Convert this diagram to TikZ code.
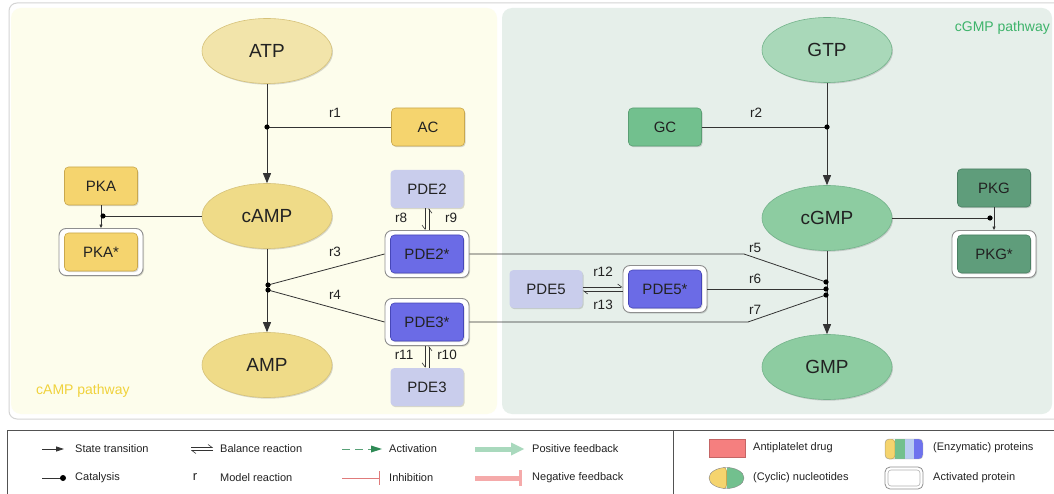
\documentclass[tikz,border=0pt]{standalone}
\usepackage{fontspec}
\setmainfont{Liberation Sans}
\usetikzlibrary{shapes.geometric, arrows.meta, shadows}

\newcommand\pxfont[1]{\fontsize{#1}{#1}\selectfont}

% palette
\definecolor{txt}{HTML}{222222}
\definecolor{edge}{HTML}{333333}
\definecolor{panelY}{HTML}{FDFDEC}
\definecolor{panelG}{HTML}{E6EFEA}
\definecolor{framegray}{HTML}{D4D4D4}
\definecolor{atpfill}{HTML}{F2E4AA}
\definecolor{campfill}{HTML}{EFDB88}
\definecolor{nucYline}{HTML}{D6C27A}
\definecolor{protY}{HTML}{F5D46E}
\definecolor{protYline}{HTML}{C9A84E}
\definecolor{gtpfill}{HTML}{A9D8B9}
\definecolor{cgmpfill}{HTML}{8DCCA1}
\definecolor{nucGline}{HTML}{74B38B}
\definecolor{gcfill}{HTML}{72C08E}
\definecolor{gcline}{HTML}{5A9E73}
\definecolor{pkgfill}{HTML}{5F9D7B}
\definecolor{pkgline}{HTML}{4A8063}
\definecolor{pdeI}{HTML}{C9CDEC}
\definecolor{pdeA}{HTML}{6B6BE6}
\definecolor{pdeAline}{HTML}{4747B8}
\definecolor{actgray}{HTML}{8F8F8F}
\definecolor{labY}{HTML}{F0D23C}
\definecolor{labG}{HTML}{3DB36A}
\definecolor{actgreen}{HTML}{2E8A55}
\definecolor{posfb}{HTML}{A9D9BD}
\definecolor{inhred}{HTML}{E07B7B}
\definecolor{negfb}{HTML}{F5AAAA}
\definecolor{drugred}{HTML}{F57F7F}
\definecolor{stripeB}{HTML}{B9CCF2}
\definecolor{stripeD}{HTML}{6E72EE}

\tikzset{
  softshadow/.style={drop shadow={shadow xshift=1pt, shadow yshift=-1.2pt, opacity=0.15, fill=black}},
  nuc/.style={ellipse, draw=nucYline, line width=0.6pt, minimum width=130pt,
    minimum height=65pt, inner sep=0pt, text=txt, font=\pxfont{19}, softshadow},
  nucY/.style={nuc, fill=campfill},
  nucG/.style={nuc, fill=cgmpfill, draw=nucGline},
  prot/.style={rectangle, rounded corners=4pt, line width=0.6pt, minimum width=73pt,
    minimum height=38pt, inner sep=0pt, text=txt, font=\pxfont{15}, softshadow},
  protY/.style={prot, fill=protY, draw=protYline},
  protG/.style={prot, fill=gcfill, draw=gcline},
  protK/.style={prot, fill=pkgfill, draw=pkgline},
  pdeinact/.style={prot, fill=pdeI, draw=none},
  pdeact/.style={prot, fill=pdeA, draw=pdeAline},
  actframe/.style={rectangle, rounded corners=7pt, draw=actgray, fill=white,
    line width=0.9pt, minimum width=84pt, minimum height=47pt, inner sep=0pt, softshadow},
  rlab/.style={text=txt, font=\pxfont{13.5}, inner sep=0pt},
  leglab/.style={text=txt, font=\pxfont{11}, anchor=west, inner sep=0pt},
  link/.style={draw=edge, line width=0.8pt},
  trans/.style={link, -{Triangle[length=10pt, width=8pt]}},
  smalltrans/.style={link, line width=0.6pt, -{Triangle[length=3.5pt, width=3pt]}},
  harp/.style={link, line width=0.6pt, -{Straight Barb[harpoon, length=4pt, width=6pt]}},
  harpsw/.style={link, line width=0.6pt, -{Straight Barb[harpoon, swap, length=4pt, width=6pt]}},
  cdot/.style={fill=black},
}

\begin{document}
\begin{tikzpicture}[x=1pt, y=-1pt]
\useasboundingbox (0,0) rectangle (1054,494);
\fill[white] (0,0) rectangle (1054,494);

% outer frame and the two pathway panels
\draw[framegray, line width=1pt, rounded corners=8pt] (9,3) rectangle (1064,419);
\fill[panelY, rounded corners=10pt] (11,8) rectangle (497,414);
\fill[panelG, rounded corners=10pt] (502,8) rectangle (1052,414);
\node[anchor=west, text=labY, font=\pxfont{14}, inner sep=0pt] (lcamp) at (36,391) {cAMP pathway};
\node[anchor=east, text=labG, font=\pxfont{14}, inner sep=0pt] (lcgmp) at (1050,28) {cGMP pathway};

% ---------- cAMP pathway ----------
\node[nucY, fill=atpfill] (atp) at (267,51) {ATP};
\node[nucY] (camp) at (267,216) {cAMP};
\node[nucY] (amp) at (267,365) {AMP};
\node[protY] (ac) at (428,127) {AC};
\node[protY] (pka) at (101,186) {PKA};
\node[actframe] (pkasf) at (101,252) {};
\node[protY] (pkas) at (101,252) {PKA*};
\node[pdeinact] (pde2) at (427,189) {PDE2};
\node[actframe] (pde2sf) at (427,254) {};
\node[pdeact] (pde2s) at (427,254) {PDE2*};
\node[actframe] (pde3sf) at (427,322) {};
\node[pdeact] (pde3s) at (427,322) {PDE3*};
\node[pdeinact] (pde3) at (427,387) {PDE3};

% ---------- cGMP pathway ----------
\node[nucG, fill=gtpfill] (gtp) at (827,50) {GTP};
\node[nucG] (cgmp) at (827,218) {cGMP};
\node[nucG] (gmp) at (827,367) {GMP};
\node[protG] (gc) at (665,127) {GC};
\node[protK] (pkg) at (994,188) {PKG};
\node[actframe] (pkgsf) at (994,254) {};
\node[protK] (pkgs) at (994,254) {PKG*};
\node[pdeinact] (pde5) at (546,289) {PDE5};
\node[actframe] (pde5sf) at (665,289) {};
\node[pdeact] (pde5s) at (665,289) {PDE5*};

% junction points of the catalysed reactions
\coordinate (c1) at (atp |- ac.west);
\coordinate (cpka) at (103,216);
\coordinate (j3) at (268,285);
\coordinate (j4) at (268,290);
\coordinate (c2) at (gtp |- gc.east);
\coordinate (cpkg) at (990,218);
\coordinate (j5) at (826,282);
\coordinate (j6) at (826,289);
\coordinate (j7) at (826,295);
\coordinate (k5) at (744,254);
\coordinate (k7) at (748,322);

% state transitions
\draw[trans] (atp) -- (camp);
\draw[trans] (camp) -- (amp);
\draw[trans] (gtp) -- (cgmp);
\draw[trans] (cgmp) -- (gmp);
\draw[smalltrans] (pka.south) -- (pkasf.north);
\draw[smalltrans] (pkg.south) -- (pkgsf.north);

% catalysis
\draw[link] (ac.west) -- (c1);
\draw[link] (camp.west) -- (cpka);
\draw[link] (pde2sf.west) -- (j3);
\draw[link] (pde3sf.west) -- (j4);
\draw[link] (gc.east) -- (c2);
\draw[link] (cgmp.east) -- (cpkg);
\draw[link] (pde2sf.east) -- (k5) -- (j5);
\draw[link] (pde5sf.east) -- (j6);
\draw[link] (pde3sf.east) -- (k7) -- (j7);
\foreach \c in {c1,cpka,j3,j4,c2,cpkg,j5,j6,j7}
  \fill[cdot] (\c) circle (2.6pt);

% balance reactions
\draw[harpsw] ([xshift=-2pt]pde2.south) -- ([xshift=-2pt]pde2sf.north);
\draw[harpsw] ([xshift=2pt]pde2sf.north) -- ([xshift=2pt]pde2.south);
\draw[harpsw] ([xshift=-2pt]pde3sf.south) -- ([xshift=-2pt]pde3.north);
\draw[harpsw] ([xshift=2pt]pde3.north) -- ([xshift=2pt]pde3sf.south);
\draw[harp] ([yshift=2pt]pde5.east) -- ([yshift=2pt]pde5sf.west);
\draw[harp] ([yshift=-2pt]pde5sf.west) -- ([yshift=-2pt]pde5.east);

% reaction labels
\node[rlab] (r1) at (335,113) {r1};
\node[rlab] (r2) at (756,113) {r2};
\node[rlab] (r3) at (335,252) {r3};
\node[rlab] (r4) at (335,295) {r4};
\node[rlab] (r5) at (755,248) {r5};
\node[rlab] (r6) at (755,279) {r6};
\node[rlab] (r7) at (755,310) {r7};
\node[rlab] (r8) at (401,218) {r8};
\node[rlab] (r9) at (451,218) {r9};
\node[rlab] (r10) at (447,355) {r10};
\node[rlab] (r11) at (404,355) {r11};
\node[rlab] (r12) at (603,272) {r12};
\node[rlab] (r13) at (603,305) {r13};

% ---------- legend ----------
\draw[color=edge!85, line width=0.8pt] (7,430) rectangle (1064,500);
\draw[color=edge!85, line width=0.8pt] (673,430) -- (673,500);

\draw[link, -{Triangle[length=8pt, width=5pt]}] (42,449) -- (64,449);
\node[leglab] (lg1) at (75,449) {State transition};
\draw[harp] (191,447.5) -- (213,447.5);
\draw[harp] (213,450.5) -- (191,450.5);
\node[leglab] (lg2) at (220,449) {Balance reaction};
\draw[actgreen!80, line width=0.9pt, dash pattern=on 8pt off 5pt] (342,449) -- (372,449);
\fill[actgreen] (382,449) -- (371,445.5) -- (371,452.5) -- cycle;
\node[leglab] (lg3) at (389,449) {Activation};
\draw[posfb, line width=5pt] (475,449) -- (512,449);
\fill[posfb] (524,449) -- (511,442.5) -- (511,455.5) -- cycle;
\node[leglab] (lg4) at (532,449) {Positive feedback};

\draw[link, line width=0.9pt] (42,478) -- (62,478);
\fill[black] (63,478) circle (3pt);
\node[leglab] (lg5) at (75,478) {Catalysis};
\node[text=txt, font=\pxfont{13}, inner sep=0pt] (lgr) at (195,477) {r};
\node[leglab] (lg6) at (220,478) {Model reaction};
\draw[inhred, line width=0.9pt] (342,478) -- (379,478);
\draw[inhred, line width=0.9pt] (379,471) -- (379,485);
\node[leglab] (lg7) at (389,478) {Inhibition};
\draw[negfb, line width=5pt] (475,478) -- (519,478);
\draw[negfb, line width=3pt] (520.5,470) -- (520.5,486);
\node[leglab] (lg8) at (532,478) {Negative feedback};

\fill[drugred] (709,439) rectangle (745,457);
\draw[drugred!80!black, line width=0.3pt] (709,439) rectangle (745,457);
\node[leglab] (lg9) at (753,448) {Antiplatelet drug};

\begin{scope}
  \clip (726.5,478) ellipse (17.5pt and 10.5pt);
  \fill[protY] (709,467) rectangle (726.5,489);
  \fill[gcfill] (726.5,467) rectangle (744,489);
\end{scope}
\draw[edge!60, line width=0.4pt] (726.5,478) ellipse (17.5pt and 10.5pt);
\node[leglab] (lg10) at (753,478) {(Cyclic) nucleotides};

\begin{scope}
  \clip[rounded corners=4pt] (885,439) rectangle (923,459);
  \fill[protY] (885,439) rectangle (895,459);
  \fill[gcfill] (895,439) rectangle (905,459);
  \fill[stripeB] (905,439) rectangle (914,459);
  \fill[stripeD] (914,439) rectangle (923,459);
\end{scope}
\draw[edge!40, line width=0.4pt, rounded corners=4pt] (885,439) rectangle (923,459);
\node[leglab] (lg11) at (933,448) {(Enzymatic) proteins};

\draw[actgray, line width=0.8pt, rounded corners=5pt] (885,467) rectangle (923,489);
\draw[actgray!70, line width=0.6pt, rounded corners=3pt] (888,470) rectangle (920,486);
\node[leglab] (lg12) at (933,478) {Activated protein};
\end{tikzpicture}
\end{document}
